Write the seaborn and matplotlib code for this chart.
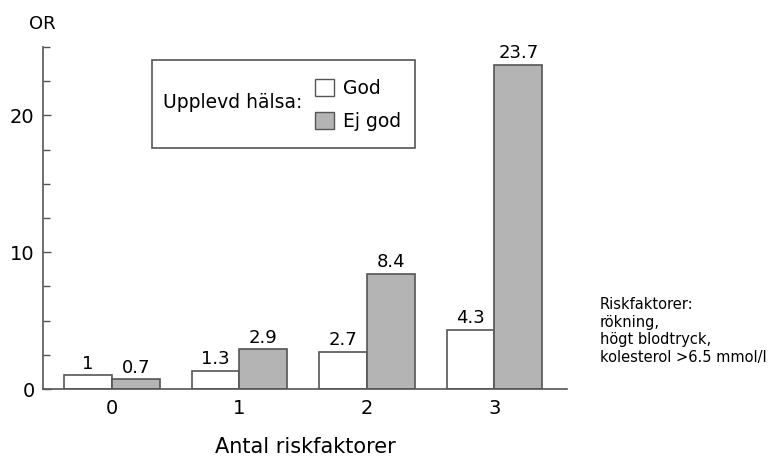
import pandas as pd
import matplotlib
matplotlib.use("Agg")
import matplotlib.pyplot as plt
from matplotlib.ticker import MultipleLocator
from matplotlib.patches import Patch, Rectangle
import seaborn as sns

antal = ["0", "1", "2", "3"]
god = [1, 1.3, 2.7, 4.3]
ej_god = [0.7, 2.9, 8.4, 23.7]
god_labels = ["1", "1.3", "2.7", "4.3"]
ej_god_labels = ["0.7", "2.9", "8.4", "23.7"]

df = pd.DataFrame({
    "antal": antal * 2,
    "OR": god + ej_god,
    "halsa": ["God"] * 4 + ["Ej god"] * 4,
})

sns.set_style("ticks")
plt.rcParams["font.family"] = ["DejaVu Sans"]
plt.rcParams["text.color"] = "black"
plt.rcParams["xtick.labelcolor"] = "black"
plt.rcParams["ytick.labelcolor"] = "black"
plt.rcParams["axes.labelcolor"] = "black"

fig = plt.figure(figsize=(7.72, 4.68), dpi=100)
ax = fig.add_axes([0.0557, 0.1688, 0.6788, 0.7308])

edge = "#555555"
sns.barplot(data=df, x="antal", y="OR", hue="halsa", hue_order=["God", "Ej god"],
            palette={"God": "white", "Ej god": "#b4b4b4"}, edgecolor=edge,
            linewidth=1.2, width=0.75, gap=0, legend=False, ax=ax)

ax.bar_label(ax.containers[0], labels=god_labels, padding=2, fontsize=13, color="black")
ax.bar_label(ax.containers[1], labels=ej_god_labels, padding=2, fontsize=13, color="black")

ax.set_xlim(-0.54, 3.57)
ax.set_ylim(0, 25)
ax.yaxis.set_major_locator(MultipleLocator(10))
ax.yaxis.set_minor_locator(MultipleLocator(2.5))
ax.tick_params(axis="y", which="major", direction="in", length=6, width=1, color=edge, labelsize=14, pad=6)
ax.tick_params(axis="y", which="minor", direction="in", length=5, width=1, color=edge)
ax.tick_params(axis="x", length=0, labelsize=14, pad=7)
for s in ["top", "right"]:
    ax.spines[s].set_visible(False)
for s in ["left", "bottom"]:
    ax.spines[s].set_color(edge)
    ax.spines[s].set_linewidth(1.2)

ax.set_xlabel("Antal riskfaktorer", fontsize=15, labelpad=14)
ax.set_ylabel("")
fig.text(29 / 772, 1 - 24 / 468, "OR", fontsize=13, va="center", ha="left")

# legend box
fig.patches.append(Rectangle((152 / 772, 1 - 148 / 468), 263 / 772, 88 / 468,
                             transform=fig.transFigure, facecolor="white",
                             edgecolor=edge, linewidth=1.2))
fig.text(163 / 772, 1 - 102 / 468, "Upplevd hälsa:", fontsize=13.5, va="center", ha="left")
handles = [Patch(facecolor="white", edgecolor=edge, label="God"),
           Patch(facecolor="#b4b4b4", edgecolor=edge, label="Ej god")]
fig.legend(handles=handles, loc="center left", bbox_to_anchor=(298 / 772, 1 - 105 / 468),
           frameon=False, fontsize=13.5, handlelength=1.0, handleheight=1.0,
           handletextpad=0.5, labelspacing=0.75)

fig.text(600 / 772, 1 - 331 / 468,
         "Riskfaktorer:\nrökning,\nhögt blodtryck,\nkolesterol >6.5 mmol/l",
         fontsize=10.5, va="center", ha="left", linespacing=1.2)

fig.savefig("out.png", dpi=100)
